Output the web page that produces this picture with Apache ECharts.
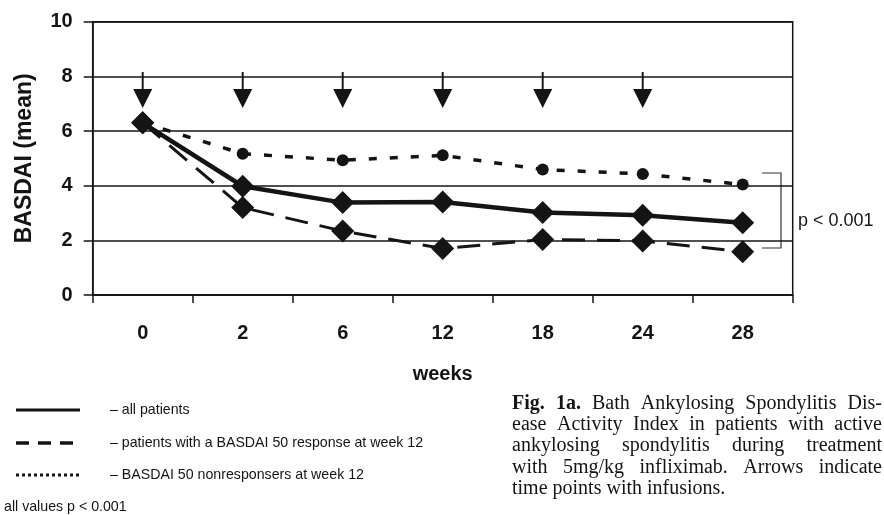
<!DOCTYPE html>
<html><head><meta charset="utf-8">
<script src="https://cdn.jsdelivr.net/npm/echarts@6/dist/echarts.min.js"></script>
<style>html,body{margin:0;padding:0;background:#fff}#c{width:884px;height:515px}</style>
</head><body><div id="c"></div>
<script>
// ---- data ----
const weeks = ['0', '2', '6', '12', '18', '24', '28'];
const allPatients = [6.3, 3.98, 3.38, 3.4, 3.02, 2.92, 2.64];
const responders = [6.3, 3.2, 2.34, 1.7, 2.03, 1.98, 1.58];
const nonResponders = [6.3, 5.17, 4.93, 5.11, 4.59, 4.43, 4.04];
const infusionWeeks = ['0', '2', '6', '12', '18', '24'];
const arrowLevel = 7.5;
const yMin = 0, yMax = 10, yStep = 2;
const seriesNames = ['all patients', 'patients with a BASDAI 50 response at week 12', 'BASDAI 50 nonresponsers at week 12'];
const legendLabels = ['– all patients', '– patients with a BASDAI 50 response at week 12', '– BASDAI 50 nonresponsers at week 12'];
const footNote = 'all values p < 0.001';
const pText = 'p < 0.001';
const captionBold = ['Fig.', '1a.'];
const captionLines = [
  'Fig. 1a. Bath Ankylosing Spondylitis Dis-',
  'ease Activity Index in patients with active',
  'ankylosing spondylitis during treatment',
  'with 5mg/kg infliximab. Arrows indicate',
  'time points with infusions.'
];

// ---- layout helpers ----
const INK = '#141414';
const SANS = '"Liberation Sans", Arial, sans-serif';
const SERIF = '"Liberation Serif", "Times New Roman", serif';
const ctx = document.createElement('canvas').getContext('2d');
function measure(t, bold) { ctx.font = (bold ? 'bold ' : '') + '20px ' + SERIF; return ctx.measureText(t).width; }

const graphics = [];
// legend
const legendY = [410, 443, 475];
const legendDash = [null, [13, 9], [3, 3]];
const legendW = [3, 3.5, 3];
legendLabels.forEach((lab, i) => {
  graphics.push({ type: 'line', shape: { x1: 16, y1: legendY[i], x2: 80, y2: legendY[i] },
    style: { stroke: INK, lineWidth: legendW[i], lineDash: legendDash[i] } });
  graphics.push({ type: 'text', x: 110, y: legendY[i],
    style: { text: lab, font: '14.2px ' + SANS, fill: INK, verticalAlign: 'middle' } });
});
graphics.push({ type: 'text', x: 4, y: 507, style: { text: footNote, font: '14.2px ' + SANS, fill: INK, verticalAlign: 'middle' } });
// bracket + p value
graphics.push({ type: 'polyline', shape: { points: [[762, 173], [781, 173], [781, 248], [762, 248]] },
  style: { stroke: '#333', lineWidth: 1.2, fill: null } });
graphics.push({ type: 'text', x: 798, y: 221, style: { text: pText, font: '18px ' + SANS, fill: INK, verticalAlign: 'middle' } });
// caption (justified)
const capX0 = 512, capX1 = 882, capBase = [410, 431.3, 452.6, 473.9, 495.2];
captionLines.forEach((line, li) => {
  const words = line.split(' ');
  const bolds = words.map((w, wi) => li === 0 && wi < captionBold.length && captionBold[wi] === w);
  const widths = words.map((w, wi) => measure(w, bolds[wi]));
  const total = widths.reduce((a, b) => a + b, 0);
  const last = li === captionLines.length - 1;
  const gap = last ? measure(' ', false) : (capX1 - capX0 - total) / (words.length - 1);
  let x = capX0;
  words.forEach((w, wi) => {
    graphics.push({ type: 'text', x: x, y: capBase[li] - 6.5,
      style: { text: w, font: (bolds[wi] ? 'bold ' : '') + '20px ' + SERIF, fill: INK, verticalAlign: 'middle' } });
    x += widths[wi] + gap;
  });
});

const chart = echarts.init(document.getElementById('c'), null, { renderer: 'canvas' });
chart.setOption({
  animation: false,
  backgroundColor: '#fff',
  textStyle: { fontFamily: SANS },
  grid: { left: 92.7, right: 91.3, top: 21.7, bottom: 220, show: true, borderColor: INK, borderWidth: 1.5 },
  xAxis: {
    type: 'category', data: weeks, boundaryGap: true,
    axisLine: { lineStyle: { color: INK, width: 1.5 } },
    axisTick: { show: true, length: 8, lineStyle: { color: INK, width: 1.5 } },
    axisLabel: { margin: 28, fontSize: 20, fontWeight: 'bold', color: INK, fontFamily: SANS },
    name: 'weeks', nameLocation: 'middle', nameGap: 69,
    nameTextStyle: { fontSize: 20, fontWeight: 'bold', color: INK, fontFamily: SANS }
  },
  yAxis: {
    type: 'value', min: yMin, max: yMax, interval: yStep,
    axisLine: { show: true, lineStyle: { color: INK, width: 1.5 } },
    axisTick: { show: true, length: 9, lineStyle: { color: INK, width: 1.5 } },
    splitLine: { show: true, lineStyle: { color: INK, width: 1.5 } },
    axisLabel: { margin: 20, fontSize: 20, fontWeight: 'bold', color: INK, fontFamily: SANS },
    name: 'BASDAI (mean)', nameLocation: 'middle', nameGap: 57,
    nameTextStyle: { fontSize: 23, fontWeight: 'bold', color: INK, fontFamily: SANS }
  },
  series: [
    { name: seriesNames[2], type: 'line', data: nonResponders, symbol: 'circle', symbolSize: 12,
      itemStyle: { color: INK }, lineStyle: { color: INK, width: 3.5, type: [8, 13] }, z: 3 },
    { name: seriesNames[1], type: 'line', data: responders, symbol: 'diamond', symbolSize: 23,
      itemStyle: { color: INK }, lineStyle: { color: INK, width: 3, type: [23, 12] }, z: 4 },
    { name: seriesNames[0], type: 'line', data: allPatients, symbol: 'diamond', symbolSize: 23,
      itemStyle: { color: INK }, lineStyle: { color: INK, width: 4.5 }, z: 5 },
    { name: 'infusions', type: 'scatter', data: infusionWeeks.map(w => [w, arrowLevel]),
      symbol: 'path://M9,0L11,0L11,17L20,17L10,36L0,17L9,17Z', symbolSize: [19, 36],
      itemStyle: { color: INK, opacity: 1 }, silent: true, z: 6 }
  ],
  graphic: graphics
});
</script></body></html>
